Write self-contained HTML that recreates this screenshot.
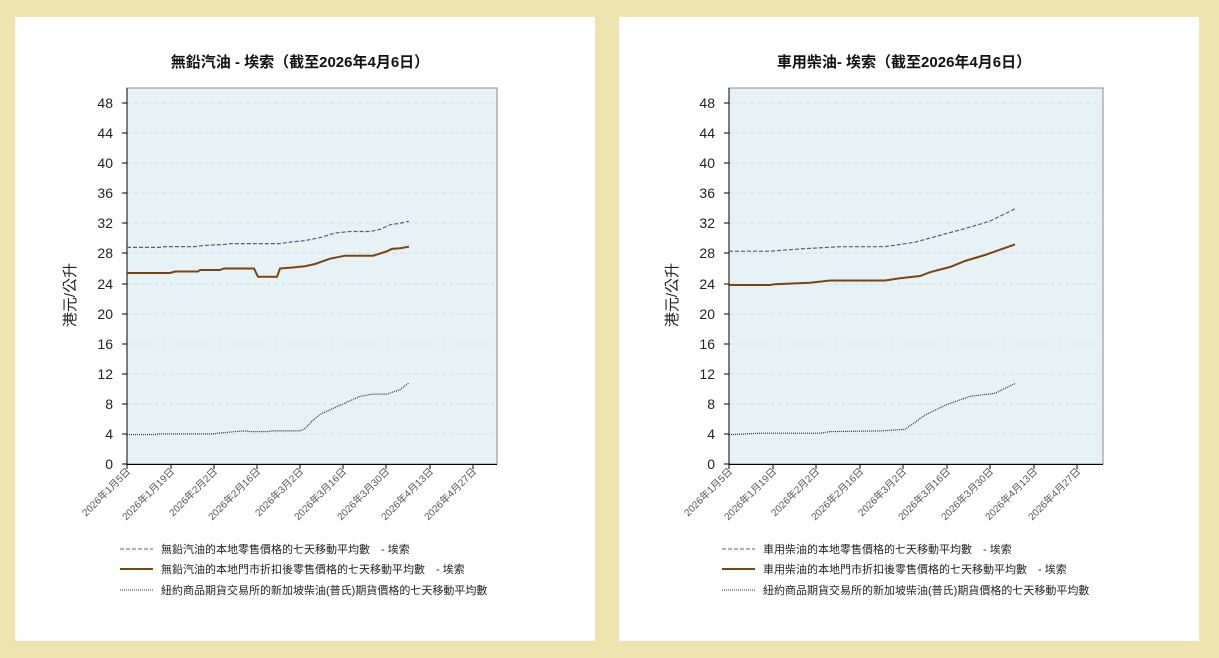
<!DOCTYPE html>
<html><head><meta charset="utf-8"><style>
html,body{margin:0;padding:0;background:#efe3b0;}
svg{display:block;}
text{font-family:"Liberation Sans","Noto Sans CJK TC",sans-serif;}
</style></head><body>
<svg width="1219" height="658" viewBox="0 0 1219 658" xmlns="http://www.w3.org/2000/svg">
<rect x="0" y="0" width="1219" height="658" fill="#efe3b0"/>
<rect x="15" y="17" width="580" height="624" fill="#fff"/>
<rect x="619" y="17" width="580" height="624" fill="#fff"/>

<!-- LEFT -->
<g>
<text x="300" y="67" text-anchor="middle" font-size="15" font-weight="bold" fill="#111">無鉛汽油 - 埃索（截至2026年4月6日）</text>
<rect x="127" y="88" width="370" height="376" fill="#e7f2f7" stroke="#888" stroke-width="1"/>
<g stroke="#d0dde6" stroke-dasharray="4,3" stroke-width="1">
<line x1="127" x2="497" y1="434" y2="434"/><line x1="127" x2="497" y1="404" y2="404"/><line x1="127" x2="497" y1="374" y2="374"/><line x1="127" x2="497" y1="344" y2="344"/><line x1="127" x2="497" y1="314" y2="314"/><line x1="127" x2="497" y1="284" y2="284"/><line x1="127" x2="497" y1="253" y2="253"/><line x1="127" x2="497" y1="223" y2="223"/><line x1="127" x2="497" y1="193" y2="193"/><line x1="127" x2="497" y1="163" y2="163"/><line x1="127" x2="497" y1="133" y2="133"/><line x1="127" x2="497" y1="103" y2="103"/>
</g>
<line x1="127" y1="88" x2="127" y2="465" stroke="#000"/>
<line x1="127" y1="464.5" x2="497" y2="464.5" stroke="#000"/>
<g stroke="#000"><line x1="122" x2="127" y1="464" y2="464"/><line x1="122" x2="127" y1="434" y2="434"/><line x1="122" x2="127" y1="404" y2="404"/><line x1="122" x2="127" y1="374" y2="374"/><line x1="122" x2="127" y1="344" y2="344"/><line x1="122" x2="127" y1="314" y2="314"/><line x1="122" x2="127" y1="284" y2="284"/><line x1="122" x2="127" y1="253" y2="253"/><line x1="122" x2="127" y1="223" y2="223"/><line x1="122" x2="127" y1="193" y2="193"/><line x1="122" x2="127" y1="163" y2="163"/><line x1="122" x2="127" y1="133" y2="133"/><line x1="122" x2="127" y1="103" y2="103"/>
<line x1="127" x2="127" y1="464" y2="469"/><line x1="171" x2="171" y1="464" y2="469"/><line x1="214" x2="214" y1="464" y2="469"/><line x1="257" x2="257" y1="464" y2="469"/><line x1="300" x2="300" y1="464" y2="469"/><line x1="343" x2="343" y1="464" y2="469"/><line x1="386" x2="386" y1="464" y2="469"/><line x1="430" x2="430" y1="464" y2="469"/><line x1="473" x2="473" y1="464" y2="469"/></g>
<g font-size="14" fill="#222" text-anchor="end">
<text x="113" y="469">0</text><text x="113" y="439">4</text><text x="113" y="409">8</text><text x="113" y="379">12</text><text x="113" y="349">16</text><text x="113" y="319">20</text><text x="113" y="289">24</text><text x="113" y="258">28</text><text x="113" y="228">32</text><text x="113" y="198">36</text><text x="113" y="168">40</text><text x="113" y="138">44</text><text x="113" y="108">48</text></g>
<text transform="translate(75,295) rotate(-90)" text-anchor="middle" font-size="15" fill="#222">港元/公升</text>
<g font-size="10" fill="#555" text-anchor="end">
<text transform="translate(131,472) rotate(-45)">2026年1月5日</text><text transform="translate(175,472) rotate(-45)">2026年1月19日</text><text transform="translate(218,472) rotate(-45)">2026年2月2日</text><text transform="translate(261,472) rotate(-45)">2026年2月16日</text><text transform="translate(304,472) rotate(-45)">2026年3月2日</text><text transform="translate(347,472) rotate(-45)">2026年3月16日</text><text transform="translate(390,472) rotate(-45)">2026年3月30日</text><text transform="translate(434,472) rotate(-45)">2026年4月13日</text><text transform="translate(477,472) rotate(-45)">2026年4月27日</text></g>
<polyline fill="none" stroke="#5a5a7a" stroke-width="1.2" stroke-dasharray="4,2" points="127,247.4 160,247.4 165,246.6 195,246.6 200,245.9 210,245.1 225,244.4 230,243.6 280,243.6 290,242.1 305,240.6 320,237.6 335,233 350,231.5 370,231.5 380,229.3 390,224.8 400,223.3 409,221.3"/>
<polyline fill="none" stroke="#7a4510" stroke-width="2" points="127,273 170,273 175,271.5 198,271.5 200,270 220,270 224,268.5 254,268.5 258,276.8 277,276.8 280,268.5 290,267.7 305,266.2 315,264 330,258.7 345,255.7 373,255.7 385,252 392,248.9 400,248.2 409,246.7"/>
<polyline fill="none" stroke="#333" stroke-width="1.2" stroke-dasharray="1,1" points="127,434.7 155,434.7 158,433.9 213,433.9 218,433.2 235,431.6 245,430.9 250,431.6 268,431.6 272,430.9 300,430.9 305,428.6 312,421.1 320,414.4 340,405.3 360,396.3 373,394.1 387,394.1 400,389.6 409,382.8"/>
<line x1="120" x2="153" y1="549" y2="549" stroke="#5a5a7a" stroke-dasharray="4,2"/>
<line x1="120" x2="153" y1="569" y2="569" stroke="#7a4510" stroke-width="2"/>
<line x1="120" x2="153" y1="590" y2="590" stroke="#333" stroke-dasharray="1,1"/>
<g font-size="11" fill="#222"><text x="161" y="553">無鉛汽油的本地零售價格的七天移動平均數　- 埃索</text><text x="161" y="573">無鉛汽油的本地門市折扣後零售價格的七天移動平均數　- 埃索</text><text x="161" y="594">紐約商品期貨交易所的新加坡柴油(普氏)期貨價格的七天移動平均數</text></g>
</g>

<!-- RIGHT -->
<g>
<text x="904" y="67" text-anchor="middle" font-size="15" font-weight="bold" fill="#111">車用柴油- 埃索（截至2026年4月6日）</text>
<rect x="729" y="88" width="374" height="376" fill="#e7f2f7" stroke="#888" stroke-width="1"/>
<g stroke="#d0dde6" stroke-dasharray="4,3" stroke-width="1">
<line x1="729" x2="1103" y1="434" y2="434"/><line x1="729" x2="1103" y1="404" y2="404"/><line x1="729" x2="1103" y1="374" y2="374"/><line x1="729" x2="1103" y1="344" y2="344"/><line x1="729" x2="1103" y1="314" y2="314"/><line x1="729" x2="1103" y1="284" y2="284"/><line x1="729" x2="1103" y1="253" y2="253"/><line x1="729" x2="1103" y1="223" y2="223"/><line x1="729" x2="1103" y1="193" y2="193"/><line x1="729" x2="1103" y1="163" y2="163"/><line x1="729" x2="1103" y1="133" y2="133"/><line x1="729" x2="1103" y1="103" y2="103"/>
</g>
<line x1="729" y1="88" x2="729" y2="465" stroke="#000"/>
<line x1="729" y1="464.5" x2="1103" y2="464.5" stroke="#000"/>
<g stroke="#000"><line x1="724" x2="729" y1="464" y2="464"/><line x1="724" x2="729" y1="434" y2="434"/><line x1="724" x2="729" y1="404" y2="404"/><line x1="724" x2="729" y1="374" y2="374"/><line x1="724" x2="729" y1="344" y2="344"/><line x1="724" x2="729" y1="314" y2="314"/><line x1="724" x2="729" y1="284" y2="284"/><line x1="724" x2="729" y1="253" y2="253"/><line x1="724" x2="729" y1="223" y2="223"/><line x1="724" x2="729" y1="193" y2="193"/><line x1="724" x2="729" y1="163" y2="163"/><line x1="724" x2="729" y1="133" y2="133"/><line x1="724" x2="729" y1="103" y2="103"/>
<line x1="729" x2="729" y1="464" y2="469"/><line x1="773" x2="773" y1="464" y2="469"/><line x1="816" x2="816" y1="464" y2="469"/><line x1="860" x2="860" y1="464" y2="469"/><line x1="903" x2="903" y1="464" y2="469"/><line x1="947" x2="947" y1="464" y2="469"/><line x1="990" x2="990" y1="464" y2="469"/><line x1="1034" x2="1034" y1="464" y2="469"/><line x1="1077" x2="1077" y1="464" y2="469"/></g>
<g font-size="14" fill="#222" text-anchor="end">
<text x="715" y="469">0</text><text x="715" y="439">4</text><text x="715" y="409">8</text><text x="715" y="379">12</text><text x="715" y="349">16</text><text x="715" y="319">20</text><text x="715" y="289">24</text><text x="715" y="258">28</text><text x="715" y="228">32</text><text x="715" y="198">36</text><text x="715" y="168">40</text><text x="715" y="138">44</text><text x="715" y="108">48</text></g>
<text transform="translate(677,295) rotate(-90)" text-anchor="middle" font-size="15" fill="#222">港元/公升</text>
<g font-size="10" fill="#555" text-anchor="end">
<text transform="translate(733,472) rotate(-45)">2026年1月5日</text><text transform="translate(777,472) rotate(-45)">2026年1月19日</text><text transform="translate(820,472) rotate(-45)">2026年2月2日</text><text transform="translate(864,472) rotate(-45)">2026年2月16日</text><text transform="translate(907,472) rotate(-45)">2026年3月2日</text><text transform="translate(951,472) rotate(-45)">2026年3月16日</text><text transform="translate(994,472) rotate(-45)">2026年3月30日</text><text transform="translate(1038,472) rotate(-45)">2026年4月13日</text><text transform="translate(1081,472) rotate(-45)">2026年4月27日</text></g>
<polyline fill="none" stroke="#5a5a7a" stroke-width="1.2" stroke-dasharray="4,2" points="729,251.2 770,251.2 800,248.9 840,246.7 885,246.7 915,242.2 945,233.9 965,228.6 990,221.1 1015,208.9"/>
<polyline fill="none" stroke="#7a4510" stroke-width="2" points="729,285 770,285 775,284.2 810,282.8 830,280.5 885,280.5 900,278.3 920,276 930,272.2 950,267 965,261 985,255 1000,249.7 1015,244.4"/>
<polyline fill="none" stroke="#333" stroke-width="1.2" stroke-dasharray="1,1" points="729,434.7 760,433.2 820,433.2 830,431.6 880,430.9 905,429.4 925,415.1 945,405.3 970,396.3 995,393.3 1015,383.5"/>
<line x1="722" x2="755" y1="549" y2="549" stroke="#5a5a7a" stroke-dasharray="4,2"/>
<line x1="722" x2="755" y1="569" y2="569" stroke="#7a4510" stroke-width="2"/>
<line x1="722" x2="755" y1="590" y2="590" stroke="#333" stroke-dasharray="1,1"/>
<g font-size="11" fill="#222"><text x="763" y="553">車用柴油的本地零售價格的七天移動平均數　- 埃索</text><text x="763" y="573">車用柴油的本地門市折扣後零售價格的七天移動平均數　- 埃索</text><text x="763" y="594">紐約商品期貨交易所的新加坡柴油(普氏)期貨價格的七天移動平均數</text></g>
</g>
</svg>
</body></html>
